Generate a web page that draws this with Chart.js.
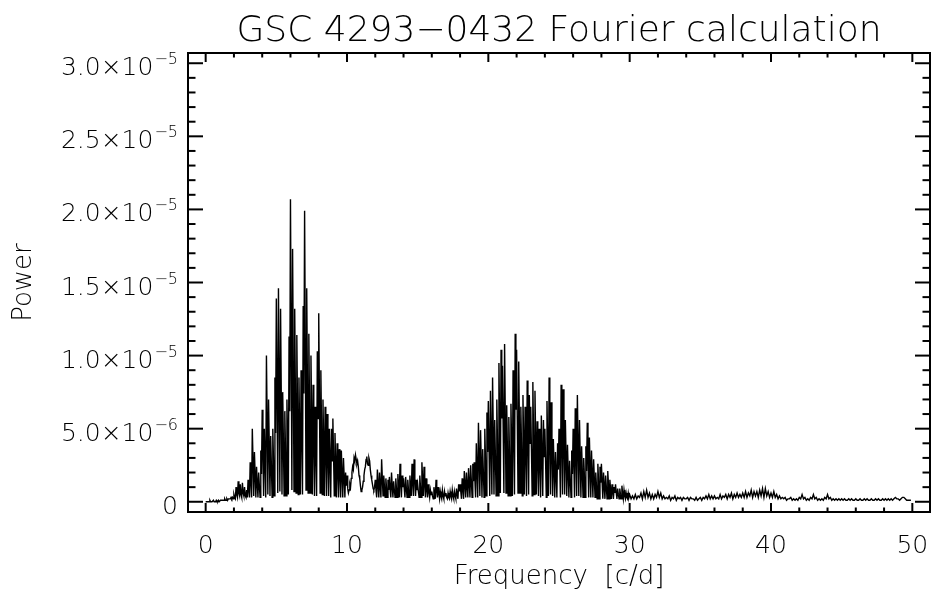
<!DOCTYPE html>
<html>
<head>
<meta charset="utf-8">
<title>GSC 4293-0432 Fourier calculation</title>
<script src="https://cdn.jsdelivr.net/npm/chart.js@4"></script>
<style>
  body { margin: 0; background: #fff; }
  canvas { display: block; }
</style>
</head>
<body>
<canvas id="chart" width="933" height="599"></canvas>
<script>
// power in units of 1e-6
// 0 - 30 c/d, read every 0.05 c/d (one row = 1 c/d)
const mainStart = 0;
const mainStep = 0.05;
const powerMain = [
  0.0,0.0,0.0,0.0,0.0,0.0,0.1,0.0,0.0,0.0,0.0,0.1,0.0,0.0,0.0,0.1,0.0,0.0,0.1,0.0,
  0.0,0.1,0.1,0.1,0.1,0.1,0.1,0.2,0.1,0.1,0.2,0.1,0.2,0.2,0.2,0.2,0.3,0.2,0.3,0.2,
  0.5,0.3,0.2,1.0,0.5,0.3,1.4,0.6,0.4,1.2,0.5,0.3,1.3,0.6,0.4,1.0,0.4,0.3,0.8,0.3,
  1.5,0.8,0.3,2.7,1.5,0.3,5.0,2.8,0.4,3.4,1.9,0.3,2.4,1.3,0.3,2.0,1.1,0.3,3.5,1.9,
  6.3,3.5,0.4,5.0,2.8,0.3,10.0,5.5,0.5,7.0,3.9,0.4,4.5,2.5,0.3,5.0,2.8,0.4,8.5,4.7,
  13.9,7.6,0.6,14.6,8.0,0.7,13.2,7.3,0.5,7.5,4.1,0.4,6.2,3.4,0.4,7.0,3.9,0.5,11.3,6.2,
  20.7,11.4,0.8,17.3,9.5,0.7,13.2,7.3,0.6,11.4,6.3,0.5,8.5,4.7,0.5,9.0,5.0,0.5,13.4,7.4,
  19.9,10.9,0.8,14.6,8.0,0.6,11.5,6.3,0.6,10.0,5.5,0.5,8.0,4.4,0.4,6.5,3.6,0.4,10.3,5.7,
  12.9,7.1,0.6,9.0,5.0,0.5,7.0,3.9,0.4,6.5,3.6,0.4,6.0,3.3,0.4,5.0,2.8,0.3,5.0,2.8,
  5.7,3.1,0.4,4.7,2.6,0.3,4.0,2.2,0.3,3.6,2.0,0.3,3.5,1.9,0.3,3.0,1.7,0.3,2.0,1.1,
  1.8,0.9,0.6,0.8,1.2,1.0,1.6,2.0,2.4,2.2,3.0,2.8,3.2,2.9,2.6,2.8,2.4,1.8,1.6,1.1,
  0.7,0.8,1.0,1.4,1.8,2.2,2.4,2.9,3.1,2.6,2.5,3.0,2.8,2.2,1.8,1.5,1.2,0.9,0.8,1.0,
  1.5,0.8,0.3,2.2,1.2,0.3,2.0,1.1,0.3,2.9,1.6,0.4,1.8,1.0,0.3,1.6,0.9,0.3,1.5,0.8,
  1.7,0.9,0.3,2.0,1.1,0.3,1.4,0.8,0.3,1.6,0.9,0.3,1.9,1.0,0.3,2.6,1.4,0.3,1.8,1.0,
  1.6,0.9,0.3,1.7,0.9,0.3,1.5,0.8,0.3,1.8,1.0,0.4,2.6,1.4,0.4,2.9,1.6,0.4,1.5,0.8,
  1.2,0.7,0.3,1.8,1.0,0.3,2.7,1.5,0.4,2.4,1.3,0.3,1.6,0.9,0.3,1.2,0.7,0.3,0.8,0.5,
  0.7,0.4,0.2,1.0,0.6,0.2,1.5,0.8,0.3,1.0,0.6,0.2,0.7,0.4,0.2,0.8,0.4,0.2,0.7,0.4,
  0.6,0.3,0.2,0.6,0.3,0.2,0.7,0.4,0.2,0.8,0.4,0.2,0.7,0.4,0.2,0.9,0.5,0.2,1.2,0.7,
  1.2,0.7,0.2,1.6,0.9,0.2,2.1,1.2,0.3,2.0,1.1,0.3,2.3,1.3,0.3,2.5,1.4,0.3,2.6,1.4,
  2.7,1.5,0.3,4.0,2.2,0.3,5.4,3.0,0.4,4.9,2.7,0.3,3.6,2.0,0.3,5.0,2.8,0.4,6.1,3.4,
  6.9,3.8,0.4,7.6,4.2,0.5,8.5,4.7,0.5,5.6,3.1,0.4,7.0,3.9,0.4,9.5,5.2,0.6,10.4,5.7,
  9.3,5.1,0.6,10.8,5.9,0.6,6.6,3.6,0.4,5.8,3.2,0.4,6.7,3.7,0.4,9.0,5.0,0.5,11.5,6.3,
  10.4,5.7,0.6,9.6,5.3,0.6,6.5,3.6,0.4,7.3,4.0,0.5,6.5,3.6,0.4,8.3,4.6,0.5,7.3,4.0,
  6.5,3.6,0.4,8.2,4.5,0.5,7.6,4.2,0.5,5.5,3.0,0.4,5.0,2.8,0.3,5.9,3.2,0.4,5.6,3.1,
  5.0,2.8,0.3,6.9,3.8,0.4,8.5,4.7,0.5,6.8,3.7,0.4,4.3,2.4,0.3,3.4,1.9,0.3,4.0,2.2,
  5.0,2.8,0.3,8.0,4.4,0.5,7.7,4.2,0.5,5.6,3.1,0.4,3.9,2.1,0.3,2.8,1.5,0.3,3.5,1.9,
  5.0,2.8,0.3,6.4,3.5,0.4,7.3,4.0,0.4,5.6,3.1,0.3,3.8,2.1,0.3,3.0,1.7,0.3,3.8,2.1,
  5.4,3.0,0.3,4.4,2.4,0.3,3.5,1.9,0.3,2.9,1.6,0.3,2.0,1.1,0.2,2.6,1.4,0.2,2.4,1.3,
  2.6,1.4,0.2,2.0,1.1,0.2,1.8,1.0,0.2,2.1,1.2,0.2,1.5,0.8,0.2,1.2,0.7,0.2,1.0,0.6,
  1.2,0.6,0.2,0.9,0.5,0.2,0.9,0.5,0.2,1.1,0.6,0.2,0.8,0.4,0.2,0.6,0.3,0.2,0.6,0.3
];

// 30 - 50 c/d, read every 0.1 c/d
const tailStart = 30;
const tailStep = 0.1;
const powerTail = [
  0.5,0.2,0.4,0.2,0.5,0.2,0.4,0.3,0.6,0.2,
  0.7,0.3,0.8,0.3,0.6,0.2,0.5,0.2,0.5,0.3,
  0.7,0.3,0.6,0.2,0.4,0.2,0.3,0.2,0.4,0.1,
  0.3,0.2,0.4,0.1,0.3,0.2,0.3,0.1,0.3,0.2,
  0.2,0.3,0.1,0.3,0.2,0.2,0.1,0.3,0.1,0.2,
  0.3,0.1,0.3,0.2,0.4,0.2,0.5,0.2,0.4,0.2,
  0.4,0.2,0.3,0.2,0.5,0.2,0.4,0.3,0.5,0.2,
  0.5,0.3,0.6,0.2,0.5,0.3,0.6,0.3,0.5,0.3,
  0.6,0.3,0.7,0.3,0.6,0.4,0.8,0.3,0.7,0.4,
  0.7,0.3,0.8,0.4,0.9,0.3,0.9,0.4,0.7,0.3,
  0.6,0.3,0.7,0.3,0.5,0.2,0.4,0.2,0.3,0.2,
  0.3,0.1,0.2,0.2,0.3,0.1,0.2,0.1,0.2,0.1,
  0.3,0.2,0.5,0.2,0.3,0.1,0.2,0.1,0.3,0.2,
  0.5,0.2,0.3,0.1,0.2,0.1,0.2,0.1,0.3,0.2,
  0.5,0.2,0.3,0.1,0.2,0.1,0.2,0.1,0.2,0.1,
  0.2,0.1,0.2,0.1,0.1,0.2,0.1,0.2,0.1,0.1,
  0.2,0.1,0.1,0.2,0.1,0.1,0.2,0.1,0.2,0.1,
  0.1,0.2,0.1,0.1,0.2,0.1,0.2,0.1,0.1,0.2,
  0.1,0.2,0.1,0.2,0.1,0.2,0.1,0.2,0.3,0.2,
  0.2,0.1,0.2,0.3,0.3,0.2,0.1,0.1,0.1,0.1
];

const xTickValues = [0, 10, 20, 30, 40, 50];
const yTickValues = [0, 5e-6, 1e-5, 1.5e-5, 2e-5, 2.5e-5, 3e-5];
const yTickMantissa = ['0', '5.0', '1.0', '1.5', '2.0', '2.5', '3.0'];
const yTickExponent = ['', '\u22126', '\u22125', '\u22125', '\u22125', '\u22125', '\u22125'];

const titleText = 'GSC 4293\u22120432 Fourier calculation';
const xTitle = 'Frequency  [c/d]';
const yTitle = 'Power';

const FONT = '"DejaVu Sans", "Liberation Sans", sans-serif';

const points = powerMain.map((p, i) => ({ x: mainStart + i * mainStep, y: p * 1e-6 }))
  .concat(powerTail.map((p, i) => ({ x: tailStart + i * tailStep, y: p * 1e-6 })));

// IDL style box: frame, inward ticks on all sides, labels with exponents
const idlBox = {
  id: 'idlBox',
  afterDraw(chart) {
    const { ctx, chartArea: a } = chart;
    const xs = chart.scales.x;
    const ys = chart.scales.y;
    ctx.save();
    ctx.strokeStyle = '#000';
    ctx.fillStyle = '#000';
    ctx.lineWidth = 2;
    ctx.strokeRect(a.left, a.top, a.right - a.left, a.bottom - a.top);

    const seg = (x1, y1, x2, y2) => {
      ctx.beginPath();
      ctx.moveTo(x1, y1);
      ctx.lineTo(x2, y2);
      ctx.stroke();
    };

    // x ticks every 2, major every 10
    for (let v = 0; v <= 50; v += 2) {
      const px = xs.getPixelForValue(v);
      const len = v % 10 === 0 ? 9 : 4.5;
      seg(px, a.bottom, px, a.bottom - len);
      seg(px, a.top, px, a.top + len);
    }
    // y ticks every 1e-6, major every 5e-6
    for (let k = 0; k <= 30; k++) {
      const py = ys.getPixelForValue(k * 1e-6);
      const len = k % 5 === 0 ? 15 : 7.5;
      seg(a.left, py, a.left + len, py);
      seg(a.right, py, a.right - len, py);
    }

    ctx.font = '200 25px ' + FONT;
    ctx.textAlign = 'center';
    ctx.textBaseline = 'alphabetic';
    xTickValues.forEach(v => {
      ctx.fillText(String(v), xs.getPixelForValue(v), a.bottom + 41);
    });

    const labelRight = a.left - 10;
    yTickValues.forEach((v, i) => {
      const py = ys.getPixelForValue(v);
      ctx.textAlign = 'left';
      ctx.font = '200 16px ' + FONT;
      const expW = yTickExponent[i] ? ctx.measureText(yTickExponent[i]).width : 0;
      ctx.font = '200 25px ' + FONT;
      const main = yTickExponent[i] ? yTickMantissa[i] + '\u00d710' : yTickMantissa[i];
      const mainW = ctx.measureText(main).width;
      const x0 = labelRight - expW - mainW - (expW ? 1 : 0);
      ctx.fillText(main, x0, py + 12);
      if (expW) {
        ctx.font = '200 16px ' + FONT;
        ctx.fillText(yTickExponent[i], x0 + mainW + 1, py + 1);
      }
    });

    const cx = (a.left + a.right) / 2;
    ctx.textAlign = 'center';
    ctx.font = '200 36px ' + FONT;
    ctx.fillText(titleText, cx, 41);
    ctx.font = '200 26px ' + FONT;
    ctx.fillText(xTitle, cx, 584);

    ctx.translate(31, (a.top + a.bottom) / 2);
    ctx.rotate(-Math.PI / 2);
    ctx.fillText(yTitle, 0, 0);
    ctx.restore();
  }
};

const chart = new Chart(document.getElementById('chart'), {
  type: 'line',
  data: {
    datasets: [{
      data: points,
      borderColor: '#000',
      borderWidth: 1.4,
      pointRadius: 0,
      tension: 0,
      fill: false
    }]
  },
  options: {
    responsive: false,
    animation: false,
    devicePixelRatio: 1,
    layout: { padding: { left: 188, top: 53, right: 3, bottom: 87 } },
    scales: {
      x: { type: 'linear', min: -1.25, max: 51.25, display: false },
      y: { type: 'linear', min: -0.7e-6, max: 30.7e-6, display: false }
    },
    plugins: {
      legend: { display: false },
      tooltip: { enabled: false },
      title: { display: false }
    }
  },
  plugins: [idlBox]
});
</script>
</body>
</html>
